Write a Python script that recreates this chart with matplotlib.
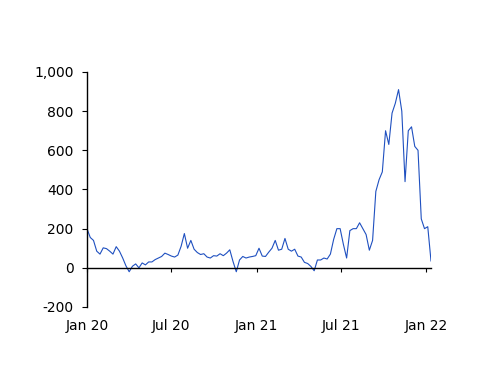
import pandas as pd
import matplotlib
matplotlib.use("Agg")
from matplotlib import pyplot as plt
import matplotlib.dates as mdates
from matplotlib.ticker import FuncFormatter

# weekly series, starting 1 Jan 2020
start_date = "2020-01-01"
vals_2020h1 = [200, 155, 140, 85, 70, 102, 98, 85, 70, 108, 85, 50, 10, -20,
               8, 20, 0, 25, 15, 30, 30, 42, 50, 58, 75, 68]
vals_2020h2 = [60, 55, 65, 110, 175, 100, 140, 95, 78, 68, 72, 55, 50, 62,
               60, 72, 62, 75, 92, 32, -20, 40, 58, 50, 55, 58]
vals_2021h1 = [62, 100, 60, 58, 80, 100, 140, 90, 95, 150, 95, 85, 95, 60,
               55, 28, 22, 7, -15, 40, 40, 50, 45, 70, 145, 200, 200]
vals_2021h2 = [120, 50, 190, 200, 200, 230, 200, 170, 90, 140,
               390, 450, 490, 700, 630, 790, 840, 910, 800, 440, 700, 720,
               620, 600, 250, 200, 210, 35]
values = vals_2020h1 + vals_2020h2 + vals_2021h1 + vals_2021h2
dates = pd.date_range(start_date, periods=len(values), freq="7D")

y_ticks = [-200, 0, 200, 400, 600, 800, 1000]
x_ticks = pd.to_datetime(["2020-01-01", "2020-07-01", "2021-01-01",
                          "2021-07-01", "2022-01-01"])

fig = plt.figure(figsize=(5, 3.86), dpi=100)
ax = fig.add_axes([0.174, 0.2047, 0.688, 0.6088])

ax.plot(dates, values, color="#1f50c0", lw=0.8)

ax.set_xlim(dates[0], dates[-1])
ax.set_ylim(-200, 1000)
ax.set_yticks(y_ticks)
ax.yaxis.set_major_formatter(FuncFormatter(lambda v, p: f"{v:,.0f}"))
ax.set_xticks(x_ticks)
ax.xaxis.set_major_formatter(mdates.DateFormatter("%b %y"))

for s in ["top", "right"]:
    ax.spines[s].set_visible(False)
ax.spines["bottom"].set_position(("data", 0))
ax.spines["bottom"].set_linewidth(1.0)
ax.spines["left"].set_linewidth(1.0)

ax.tick_params(axis="y", direction="out", length=3.6, width=0.8, pad=6,
               labelsize=10)
ax.tick_params(axis="x", direction="out", length=3, width=0.8, pad=34,
               labelsize=10)

fig.savefig("out.png", dpi=100)
